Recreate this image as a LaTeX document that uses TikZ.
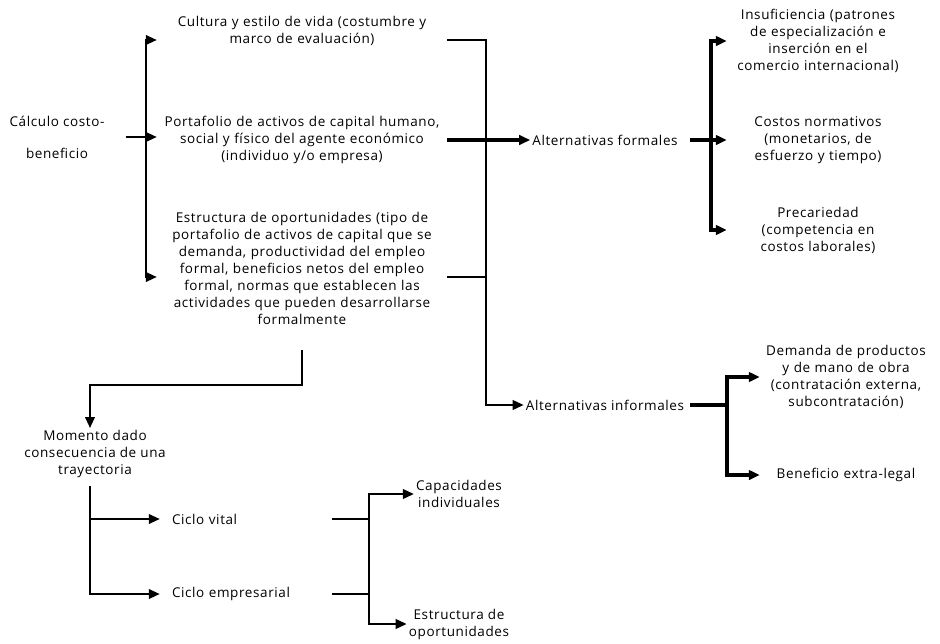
\documentclass[tikz,border=0pt]{standalone}
\usepackage{fontspec}
\setmainfont[LetterSpace=4.5]{Open Sans}
\usetikzlibrary{arrows.meta}

\begin{document}
\begin{tikzpicture}[x=1pt,y=-1pt,
  every node/.style={font=\fontsize{13.5}{17}\selectfont, align=center, inner sep=2pt},
  ln/.style={line width=2.2pt},
  arr/.style={ln, -{Triangle[length=11pt,width=9.5pt]}},
  heavy/.style={line width=3.2pt},
  midcol/.style={text width=290pt, inner xsep=0pt},
  rcol/.style={text width=182pt, inner xsep=0pt},
  icol/.style={text width=172pt, inner xsep=0pt},
  bcol/.style={text width=148pt, align=left, inner xsep=12pt}]

\useasboundingbox (0,0) rectangle (940,643);

% columna izquierda
\node (calc) at (57,137) {Cálculo costo-\\[15pt]beneficio};
\node[midcol] (cult) at (302,31) {Cultura y estilo de vida (costumbre y\\marco de evaluación)};
\node[midcol] (port) at (302,140) {Portafolio de activos de capital humano,\\social y físico del agente económico\\(individuo y/o empresa)};
\node[midcol] (estr) at (302,268) {Estructura de oportunidades (tipo de\\portafolio de activos de capital que se\\demanda, productividad del empleo\\formal, beneficios netos del empleo\\formal, normas que establecen las\\actividades que pueden desarrollarse\\formalmente};

% alternativas
\node (form) at (605,140) {Alternativas formales};
\node (infor) at (605,405) {Alternativas informales};
\node[rcol] (insu) at (818,41) {Insuficiencia (patrones\\de especialización e\\inserción en el\\comercio internacional)};
\node[rcol] (costo) at (818,140) {Costos normativos\\(monetarios, de\\esfuerzo y tiempo)};
\node[rcol] (prec) at (818,230) {Precariedad\\(competencia en\\costos laborales)};
\node[icol] (dem) at (846,377) {Demanda de productos\\y de mano de obra\\(contratación externa,\\subcontratación)};
\node[icol] (bene) at (846,475) {Beneficio extra-legal};

% trayectoria
\node (mom) at (95,454) {Momento dado\\consecuencia de una\\trayectoria};
\node[bcol] (cvit) at (246,519) {Ciclo vital};
\node[bcol] (cemp) at (246,594) {Ciclo empresarial};
\node (capa) at (459,494) {Capacidades\\individuales};
\node (oport) at (459,624) {Estructura de\\oportunidades};

\coordinate (jA) at (146,138);
\coordinate (jB) at (486,405);
\coordinate (jC) at (711,140);
\coordinate (jD) at (90,385);
\coordinate (jE) at (727,405);
\coordinate (jF) at (369,556);
\coordinate (cultout) at ([yshift=-9pt]cult.east);
\coordinate (estrout) at ([yshift=-9pt]estr.east);

\draw[arr, shorten <=19pt] (calc.east) -- (calc.east -| port.west);
\draw[arr] (jA) |- ([yshift=-9pt]cult.west);
\draw[arr] (jA) |- ([yshift=-9pt]estr.west);

\draw[arr] (cultout) -| (jB) -- (infor.west);
\draw[ln] (estrout) -- (estrout -| jB);
\draw[arr, heavy] (port.east) -- (form.west);

\draw[arr, heavy, shorten <=10pt] (form.east) -- (costo.west);
\draw[arr, heavy] (jC) |- (insu.west);
\draw[arr, heavy] (jC) |- (prec.west);

\draw[heavy, shorten <=4pt] (infor.east) -- (jE);
\draw[arr, heavy] (jE) |- (dem.west);
\draw[arr, heavy] (jE) |- (bene.west);

\draw[arr, shorten <=24pt] (estr.south) |- (jD) -- (jD |- mom.north);
\draw[arr, shorten <=6pt] (jD |- mom.south) |- (cvit.west);
\draw[arr, shorten <=6pt] (jD |- mom.south) |- (cemp.west);
\draw[ln] (cvit.east) -- (cvit.east -| jF);
\draw[ln] (cemp.east) -- (cemp.east -| jF);
\draw[arr] (jF) |- (capa.west);
\draw[arr] (jF) |- (oport.west);
\end{tikzpicture}
\end{document}
